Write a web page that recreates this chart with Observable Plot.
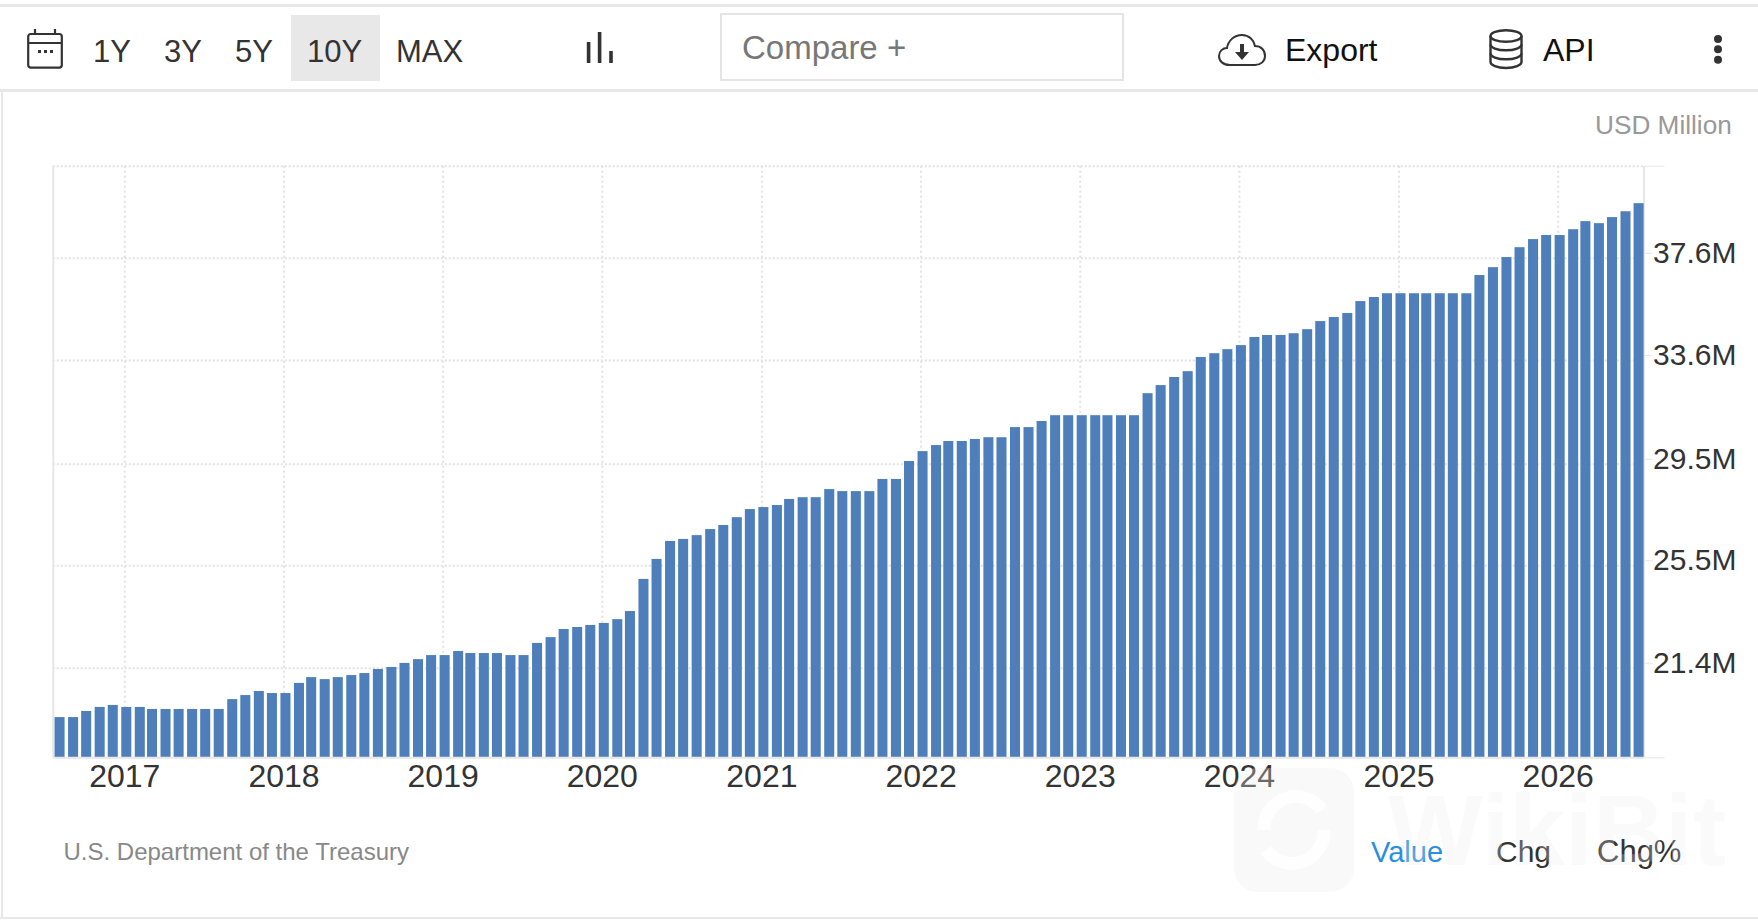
<!DOCTYPE html>
<html>
<head>
<meta charset="utf-8">
<script src="https://cdn.jsdelivr.net/npm/d3@7"></script>
<script src="https://cdn.jsdelivr.net/npm/@observablehq/plot@0.6"></script>
<style>
html,body{margin:0;padding:0;background:#fff;}
body{font-family:"Liberation Sans",Arial,sans-serif;}
#page{position:relative;width:1758px;height:924px;overflow:hidden;background:#fff;}
#toolbar{position:relative;height:90px;}
#chart svg{display:block;}
#footer{position:relative;height:117px;}
.t{position:absolute;white-space:nowrap;}
.tb{top:52px;line-height:0;font-size:31px;color:#333;}
.line{position:absolute;background:#e8e8e8;}
svg.icon{position:absolute;overflow:visible;fill:none;stroke:#333;}
</style>
</head>
<body>
<div id="page">
  <div id="toolbar">
    <div class="line" style="left:0;top:4px;width:1758px;height:3px"></div>
    <div class="line" style="left:0;top:88.5px;width:1758px;height:3px"></div>

    <svg class="icon" style="left:27px;top:29px" width="36" height="40" viewBox="0 0 36 40" stroke-width="2.2">
      <rect x="1.2" y="5" width="33.6" height="33.6" rx="2.5"></rect>
      <path d="M1.2 14H34.8M8 0V5M28 0V5"></path>
      <path d="M11 22.5h3M17 22.5h3M23 22.5h3" stroke-width="3"></path>
    </svg>
    <div class="t tb" style="left:93px">1Y</div>
    <div class="t tb" style="left:164px">3Y</div>
    <div class="t tb" style="left:235px">5Y</div>
    <div class="t" style="left:291px;top:15px;width:89px;height:66px;background:#e9e8e9"></div>
    <div class="t tb" style="left:307px">10Y</div>
    <div class="t tb" style="left:396px">MAX</div>

    <svg class="icon" style="left:587px;top:32px" width="26" height="31" viewBox="0 0 26 31" stroke-width="3.6">
      <path d="M1.6 31V10M12.6 31V0M24 31V19"></path>
    </svg>

    <div class="t" style="left:720px;top:13px;width:404px;height:68px;border:2px solid #e4e4e4;box-sizing:border-box"></div>
    <div class="t" style="left:742px;top:48px;line-height:0;font-size:33px;color:#777">Compare +</div>

    <svg class="icon" style="left:1218px;top:34px" width="48" height="32" viewBox="0 0 48 32" stroke-width="2">
      <path d="M12 31C5 31 1 27 1 22C1 17 5 14 9 14C10 7 16 1 24 1C31 1 36 6 37 12C43 12 47 16 47 22C47 27 43 31 37 31Z"></path>
      <path d="M24 10V20" stroke-width="4"></path>
      <path d="M17 18H31L24 26Z" fill="#333" stroke="none"></path>
    </svg>
    <div class="t tb" style="top:50px;left:1285px;font-size:32px;color:#111">Export</div>

    <svg class="icon" style="left:1489px;top:29px" width="34" height="40" viewBox="0 0 34 40" stroke-width="2.4">
      <ellipse cx="17" cy="7" rx="15.5" ry="5.8"></ellipse>
      <path d="M1.5 7V33C1.5 36 8 39 17 39C26 39 32.5 36 32.5 33V7"></path>
      <path d="M1.5 15.5C1.5 18.5 8 21.3 17 21.3C26 21.3 32.5 18.5 32.5 15.5"></path>
      <path d="M1.5 24.5C1.5 27.5 8 30.3 17 30.3C26 30.3 32.5 27.5 32.5 24.5"></path>
    </svg>
    <div class="t tb" style="top:50px;left:1543px;font-size:32px;color:#111">API</div>

    <svg class="icon" style="left:1713px;top:34px;stroke:none;fill:#333" width="10" height="30" viewBox="0 0 10 30">
      <circle cx="5" cy="5" r="4"></circle><circle cx="5" cy="15.3" r="4"></circle><circle cx="5" cy="25.7" r="4"></circle>
    </svg>
  </div>

  <div id="chart"></div>

  <div id="footer">
    <div class="t" style="left:63.5px;top:51.5px;line-height:0;font-size:24px;color:#888">U.S. Department of the Treasury</div>
    <div class="t" style="left:1371px;top:52px;line-height:0;font-size:29px;color:#2a8fe0">Value</div>
    <div class="t" style="left:1496px;top:52px;line-height:0;font-size:30px;color:#333">Chg</div>
    <div class="t" style="left:1597px;top:52px;line-height:0;font-size:31px;color:#333">Chg%</div>
  </div>
  <div class="line" style="left:1px;top:90px;width:2px;height:828px"></div>
  <div class="line" style="left:0;top:917px;width:1758px;height:2px"></div>
  <div class="t" style="left:1595px;top:125px;line-height:0;font-size:26.2px;color:#999">USD Million</div>

  <!-- faint watermark laid over the page -->
  <svg style="position:absolute;left:1234px;top:768px;pointer-events:none" width="120" height="124" viewBox="0 0 120 124">
    <rect width="120" height="124" rx="24" fill="rgba(236,236,236,.3)"></rect>
    <path d="M30 62A32 32 0 0 1 88 42M90 62A32 32 0 0 1 32 82" fill="none" stroke="rgba(255,255,255,.8)" stroke-width="13"></path>
  </svg>
  <div class="t" style="left:1388px;top:830px;line-height:0;font-size:100px;font-weight:700;color:rgba(236,236,236,.25);pointer-events:none">WikiBit</div>
</div>

<script>
// Monthly values, in millions as the axis labels them (first bar Aug 2016, last Jul 2026)
const firstMonth = new Date(Date.UTC(2016, 7, 1));
const values = [
  19.45,19.45,19.69,19.85,19.93,19.85,19.85,19.77,19.77,19.77,19.77,19.77,
  19.77,20.16,20.32,20.48,20.40,20.40,20.80,21.03,20.95,21.03,21.11,21.19,
  21.35,21.43,21.59,21.74,21.90,21.90,22.06,21.98,21.98,21.98,21.90,21.90,
  22.38,22.61,22.93,23.01,23.09,23.17,23.32,23.64,24.91,25.70,26.41,26.49,
  26.64,26.88,27.04,27.35,27.67,27.75,27.83,28.07,28.14,28.14,28.46,28.38,
  28.38,28.38,28.86,28.86,29.57,29.96,30.20,30.36,30.36,30.44,30.51,30.51,
  30.91,30.91,31.15,31.38,31.38,31.38,31.38,31.38,31.38,31.38,32.25,32.57,
  32.89,33.12,33.68,33.83,33.99,34.15,34.47,34.55,34.55,34.62,34.78,35.10,
  35.26,35.42,35.89,36.05,36.20,36.20,36.20,36.20,36.20,36.20,36.20,36.92,
  37.23,37.63,38.02,38.34,38.50,38.50,38.73,39.05,38.97,39.21,39.44,39.76
];
const yearTicks = [2017,2018,2019,2020,2021,2022,2023,2024,2025,2026].map(y => new Date(Date.UTC(y, 0, 1)));
const yTicks = [21.4, 25.451, 29.46, 33.56, 37.6];
const yMin = 17.86, yMax = 41.24;
const xDomain = [new Date(Date.UTC(2016, 6, 21)), new Date(Date.UTC(2026, 6, 17))];
const barStartDays = -7, barEndDays = 16;

const table = values.map((value, i) => {
  const date = d3.utcMonth.offset(firstMonth, i);
  const start = new Date(+date + barStartDays * 864e5);
  const end = new Date(+date + barEndDays * 864e5);
  return {date, start, end, value};
});

const gridColor = "#e2e2e2", lineColor = "#e6e6e6";
const chart = Plot.plot({
  width: 1758,
  height: 710,
  marginLeft: 52.8,
  marginRight: 114.4,
  marginTop: 75.7,
  marginBottom: 42.7,
  style: {fontFamily: '"Liberation Sans",Arial,sans-serif', background: "transparent", overflow: "visible"},
  x: {type: "utc", domain: xDomain},
  y: {domain: [yMin, yMax]},
  marks: [
    Plot.ruleX(yearTicks, {stroke: gridColor, strokeWidth: 2, strokeDasharray: "2 3"}),
    Plot.ruleY([...yTicks, yMax], {stroke: gridColor, strokeWidth: 2, strokeDasharray: "2 2"}),
    Plot.ruleX([xDomain[0], xDomain[1]], {stroke: lineColor, strokeWidth: 2}),
    Plot.rectY(table, {x1: "start", x2: "end", y1: yMin, y2: "value", fill: "#4f7fba"}),
    Plot.ruleY([yMin], {stroke: lineColor, strokeWidth: 2}),
    Plot.axisX({ticks: yearTicks, tickFormat: "%Y", tickSize: 0, tickPadding: 6, fontSize: 32, fill: "#333", label: null}),
    Plot.axisY({anchor: "right", ticks: [yMin, yMax], tickSize: 20, stroke: lineColor, tickFormat: () => "", label: null}),
    Plot.axisY({anchor: "right", ticks: yTicks, tickSize: 8, tickPadding: 1, stroke: lineColor, strokeWidth: 1,
      tickFormat: d => d.toFixed(1) + "M", fontSize: 30, fill: "#333", dy: -5, label: null})
  ]
});
document.getElementById("chart").appendChild(chart);
</script>
</body>
</html>
